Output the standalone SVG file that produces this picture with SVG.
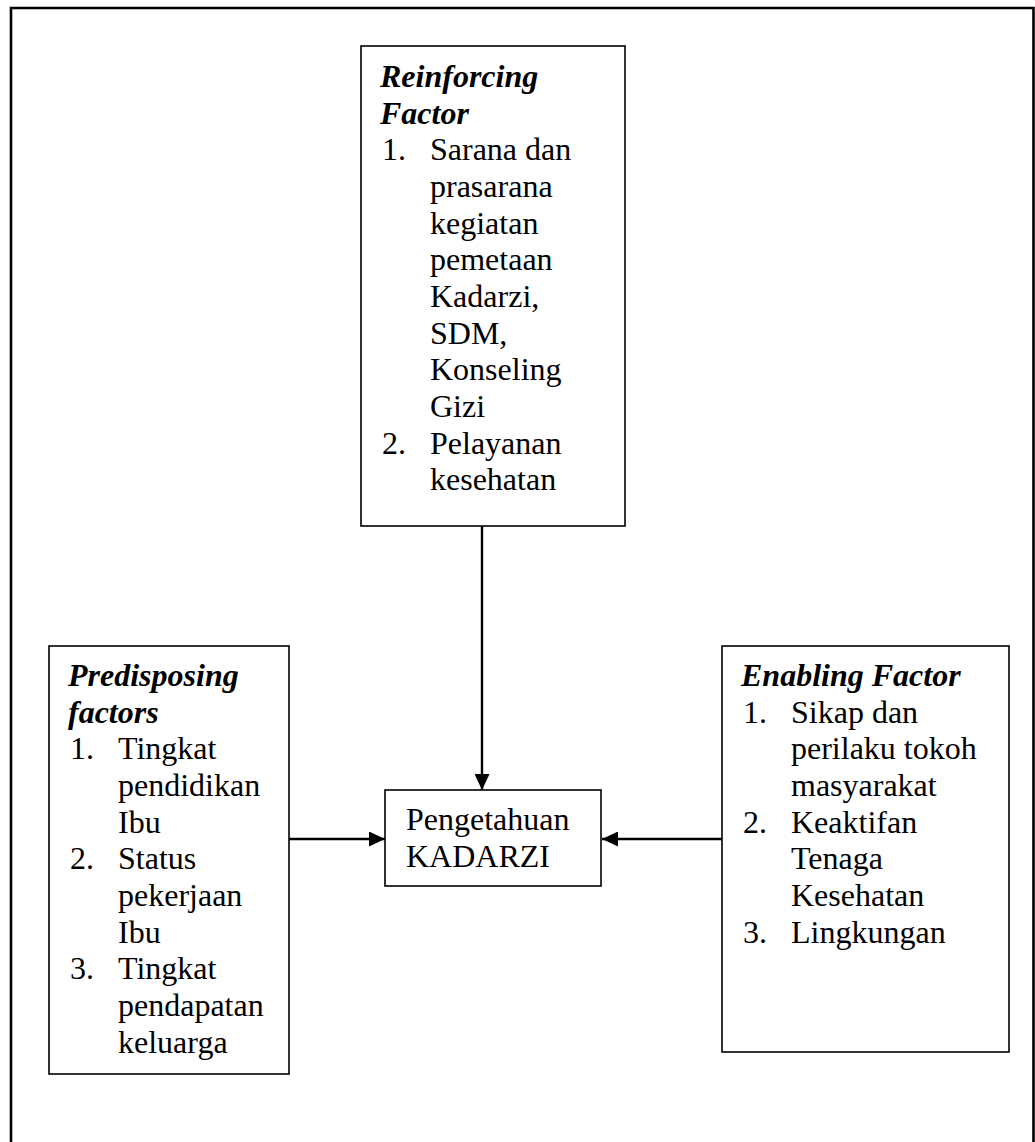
<svg xmlns="http://www.w3.org/2000/svg" width="1035" height="1142" viewBox="0 0 1035 1142">
<style>
.box{fill:#fff;stroke:#000;stroke-width:1.6}
.t{font-family:"Liberation Serif","Times New Roman",serif;font-size:32px;fill:#000}
.h{font-weight:bold;font-style:italic}
.c{stroke:#000;stroke-width:2.4;fill:none}
</style>
<defs>
<marker id="ah" markerWidth="16" markerHeight="15" refX="16" refY="7.5" orient="auto" markerUnits="userSpaceOnUse">
<path d="M0,0 L16,7.5 L0,15 Z" fill="#000"/>
</marker>
</defs>
<rect width="1035" height="1142" fill="#fff"/>
<path id="frame" d="M11,1142 V8 H1033.5 V1142" fill="none" stroke="#000" stroke-width="2.6"/>
<g id="reinforcing">
<rect class="box" x="361" y="46" width="264" height="480"/>
<text class="t h" x="380" y="87">Reinforcing</text>
<text class="t h" x="380" y="123.7">Factor</text>
<text class="t" x="382" y="160.3">1.</text>
<text class="t" x="430" y="160.3">Sarana dan</text>
<text class="t" x="430" y="197">prasarana</text>
<text class="t" x="430" y="233.7">kegiatan</text>
<text class="t" x="430" y="270.3">pemetaan</text>
<text class="t" x="430" y="307">Kadarzi,</text>
<text class="t" x="430" y="343.7">SDM,</text>
<text class="t" x="430" y="380.3">Konseling</text>
<text class="t" x="430" y="417">Gizi</text>
<text class="t" x="382" y="453.7">2.</text>
<text class="t" x="430" y="453.7">Pelayanan</text>
<text class="t" x="430" y="490.3">kesehatan</text>
</g>
<g id="predisposing">
<rect class="box" x="49" y="646" width="240" height="428"/>
<text class="t h" x="68" y="686">Predisposing</text>
<text class="t h" x="68" y="722.7">factors</text>
<text class="t" x="70" y="759.3">1.</text>
<text class="t" x="118" y="759.3">Tingkat</text>
<text class="t" x="118" y="796">pendidikan</text>
<text class="t" x="118" y="832.7">Ibu</text>
<text class="t" x="70" y="869.3">2.</text>
<text class="t" x="118" y="869.3">Status</text>
<text class="t" x="118" y="906">pekerjaan</text>
<text class="t" x="118" y="942.7">Ibu</text>
<text class="t" x="70" y="979.3">3.</text>
<text class="t" x="118" y="979.3">Tingkat</text>
<text class="t" x="118" y="1016">pendapatan</text>
<text class="t" x="118" y="1052.7">keluarga</text>
</g>
<g id="enabling">
<rect class="box" x="722" y="646" width="287" height="406"/>
<text class="t h" x="741" y="686">Enabling Factor</text>
<text class="t" x="743" y="722.7">1.</text>
<text class="t" x="791" y="722.7">Sikap dan</text>
<text class="t" x="791" y="759.3">perilaku tokoh</text>
<text class="t" x="791" y="796">masyarakat</text>
<text class="t" x="743" y="832.7">2.</text>
<text class="t" x="791" y="832.7">Keaktifan</text>
<text class="t" x="791" y="869.3">Tenaga</text>
<text class="t" x="791" y="906">Kesehatan</text>
<text class="t" x="743" y="942.7">3.</text>
<text class="t" x="791" y="942.7">Lingkungan</text>
</g>
<g id="pengetahuan">
<rect class="box" x="385" y="790" width="216" height="96"/>
<text class="t" x="406" y="830">Pengetahuan</text>
<text class="t" x="406" y="866.7">KADARZI</text>
</g>
<g id="connectors">
<line class="c" x1="482" y1="526" x2="482" y2="790" marker-end="url(#ah)"/>
<line class="c" x1="289" y1="839" x2="385" y2="839" marker-end="url(#ah)"/>
<line class="c" x1="722" y1="839" x2="602" y2="839" marker-end="url(#ah)"/>
</g>
</svg>
